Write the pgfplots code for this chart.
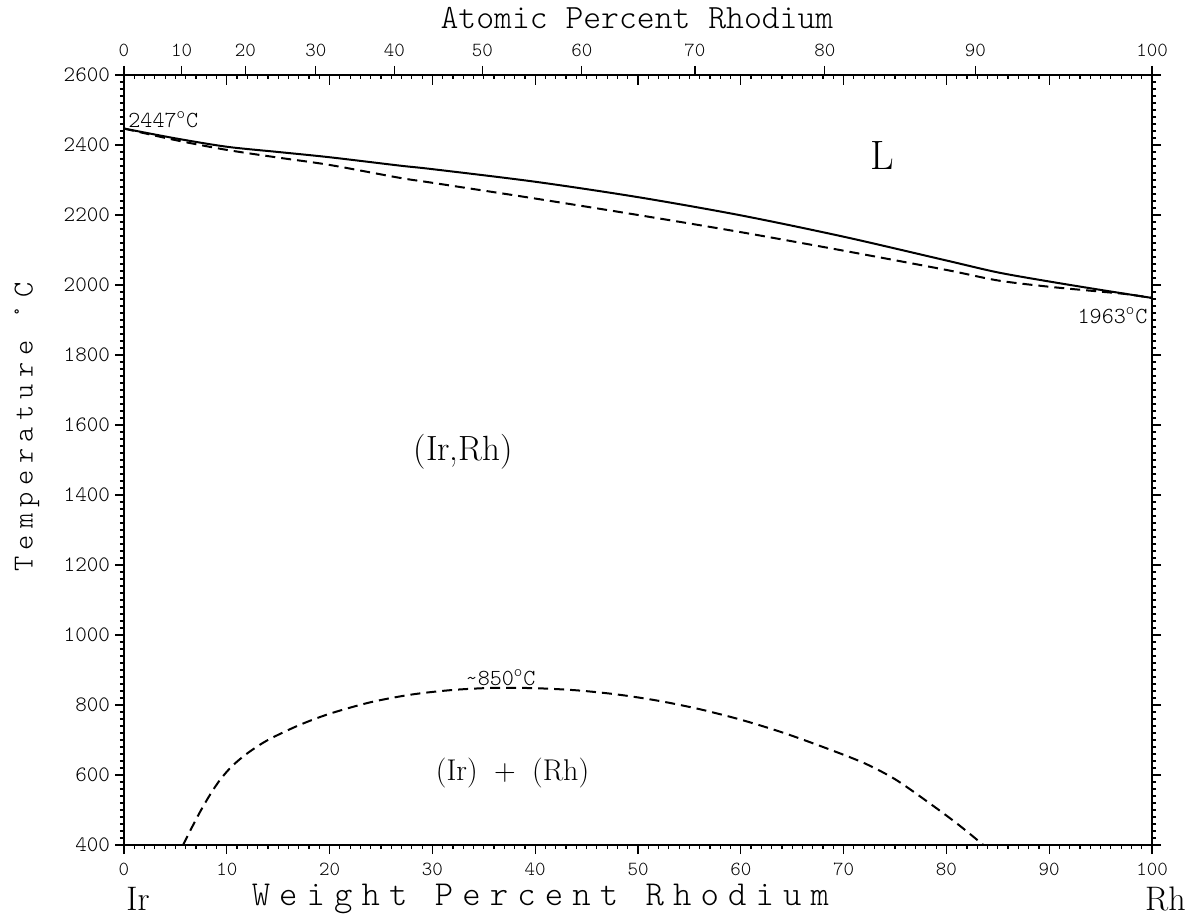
\documentclass[border=0pt]{standalone}
\usepackage{fontspec}
\usepackage{pgfplots}
\pgfplotsset{compat=1.18}
\newfontfamily\monoL{lmmonolt10-regular.otf}
\newfontfamily\monoLA{lmmonolt10-regular.otf}[LetterSpace=26]
\newfontfamily\monoLC{lmmonolt10-regular.otf}[LetterSpace=22]
\begin{document}
\begin{tikzpicture}
\path[use as bounding box] (-62pt,-35.5pt) rectangle (534.5pt,422.5pt);
% main axis
\begin{axis}[
  at={(0pt,0pt)}, anchor=south west,
  scale only axis, width=514pt, height=385pt,
  xmin=0, xmax=100, ymin=400, ymax=2600,
  xtick={0,10,...,100}, ytick={400,600,...,2600},
  minor x tick num=9, minor y tick num=9,
  xtick pos=bottom, ytick pos=both,
  tick align=outside,
  major tick length=4.5pt, minor tick length=2pt,
  every tick/.style={black, line width=0.6pt},
  axis line style={line width=0.75pt},
  /pgf/number format/assume math mode=true,
  /pgf/number format/1000 sep={},
  scaled ticks=false,
  x tick label style={font=\monoL\fontsize{10}{12}\selectfont, yshift=-1pt},
  y tick label style={font=\monoL\fontsize{11}{13}\selectfont, xshift=1pt},
  clip=false,
]
\addplot[black, line width=1pt, smooth] coordinates {
(0,2447) (5,2419) (10,2395) (15,2380) (20,2365) (26.85,2341) (30,2331) (40,2295) (50,2251) (60,2199) (70,2138) (80,2070) (85,2036) (90,2010) (95,1986) (100,1963)
};
\addplot[black, line width=1pt, dash pattern=on 5pt off 3pt, smooth] coordinates {
(0,2447) (5,2414) (10,2386) (15,2364) (20,2343) (26.85,2306) (30,2292) (40,2247) (50,2200) (60,2151) (70,2098) (80,2043) (85,2013) (90,1995) (95,1981) (97.5,1974) (100,1963)
};
\addplot[black, line width=1pt, dash pattern=on 5pt off 3pt, smooth] coordinates {
(5.74,400) (6.6,450) (7.5,500) (8.4,545) (9.34,586) (10.5,625) (12,662) (14,700) (17,742) (20,775) (24,808) (28,830) (32,843) (36,849) (40,848) (44,842) (48,830) (52,812) (56,788) (60,758) (64,722) (68,680) (72,634) (75,588) (78,527) (81,462) (83.6,400)
};
\node[anchor=base west, font=\monoL\fontsize{11.5}{13}\selectfont, inner sep=0pt] at (axis cs:0.39,2451) {2447\textsuperscript{o}C};
\node[anchor=base east, font=\monoL\fontsize{11.5}{13}\selectfont, inner sep=0pt] at (axis cs:99.6,1891) {1963\textsuperscript{o}C};
\node[anchor=base west, font=\monoL\fontsize{11.5}{13}\selectfont, inner sep=0pt] at (axis cs:33.2,857) {\textasciitilde850\textsuperscript{o}C};
\node[font=\fontsize{20.5}{24}\selectfont, inner sep=0pt] at (axis cs:73.8,2371) {L};
\node[font=\fontsize{17.5}{20}\selectfont, inner sep=0pt] at (axis cs:33.0,1523) {(Ir,Rh)};
\node[font=\fontsize{15}{18}\selectfont, inner sep=0pt] at (axis cs:37.8,606) {(Ir)\hspace{0.55em}+\hspace{0.55em}(Rh)};
\node[anchor=base west, font=\fontsize{17}{20}\selectfont, inner sep=0pt] at (axis cs:0.2,212) {Ir};
\node[anchor=base west, font=\fontsize{17}{20}\selectfont, inner sep=0pt] at (axis cs:99.3,212) {Rh};
\node[anchor=base, font=\monoLA\fontsize{17.5}{20}\selectfont, inner sep=0pt] at (axis cs:40.5,226) {Weight Percent Rhodium};
\node[anchor=base, font=\monoL\fontsize{17}{20}\selectfont, inner sep=0pt] at (axis cs:49.9,2733) {Atomic Percent Rhodium};
\node[rotate=90, font=\monoLC\fontsize{14.5}{17}\selectfont, inner sep=0pt] at (axis cs:-9.44,1594) {Temperature °C};
\end{axis}
% top inward weight-percent ticks
\begin{axis}[
  at={(0pt,0pt)}, anchor=south west,
  scale only axis, width=514pt, height=385pt,
  xmin=0, xmax=100, ymin=400, ymax=2600,
  axis x line*=top, axis y line=none,
  xtick={0,10,...,100}, xticklabels={},
  minor x tick num=9,
  tick align=inside,
  major tick length=5pt, minor tick length=2pt,
  every tick/.style={black, line width=0.6pt},
  axis line style={line width=0.75pt},
]
\end{axis}
% top atomic percent axis
\begin{axis}[
  at={(0pt,0pt)}, anchor=south west,
  scale only axis, width=514pt, height=385pt,
  xmin=0, xmax=100, ymin=400, ymax=2600,
  axis x line*=top, axis y line=none,
  xtick={0,5.6145,11.804,18.662,26.303,34.869,44.538,55.539,68.168,82.813,100},
  xticklabels={0,10,20,30,40,50,60,70,80,90,100},
  tick align=outside,
  major tick length=4.5pt,
  every tick/.style={black, line width=0.6pt},
  axis line style={line width=0.75pt},
  x tick label style={font=\monoL\fontsize{10}{12}\selectfont, yshift=1pt},
]
\end{axis}
\end{tikzpicture}
\end{document}
